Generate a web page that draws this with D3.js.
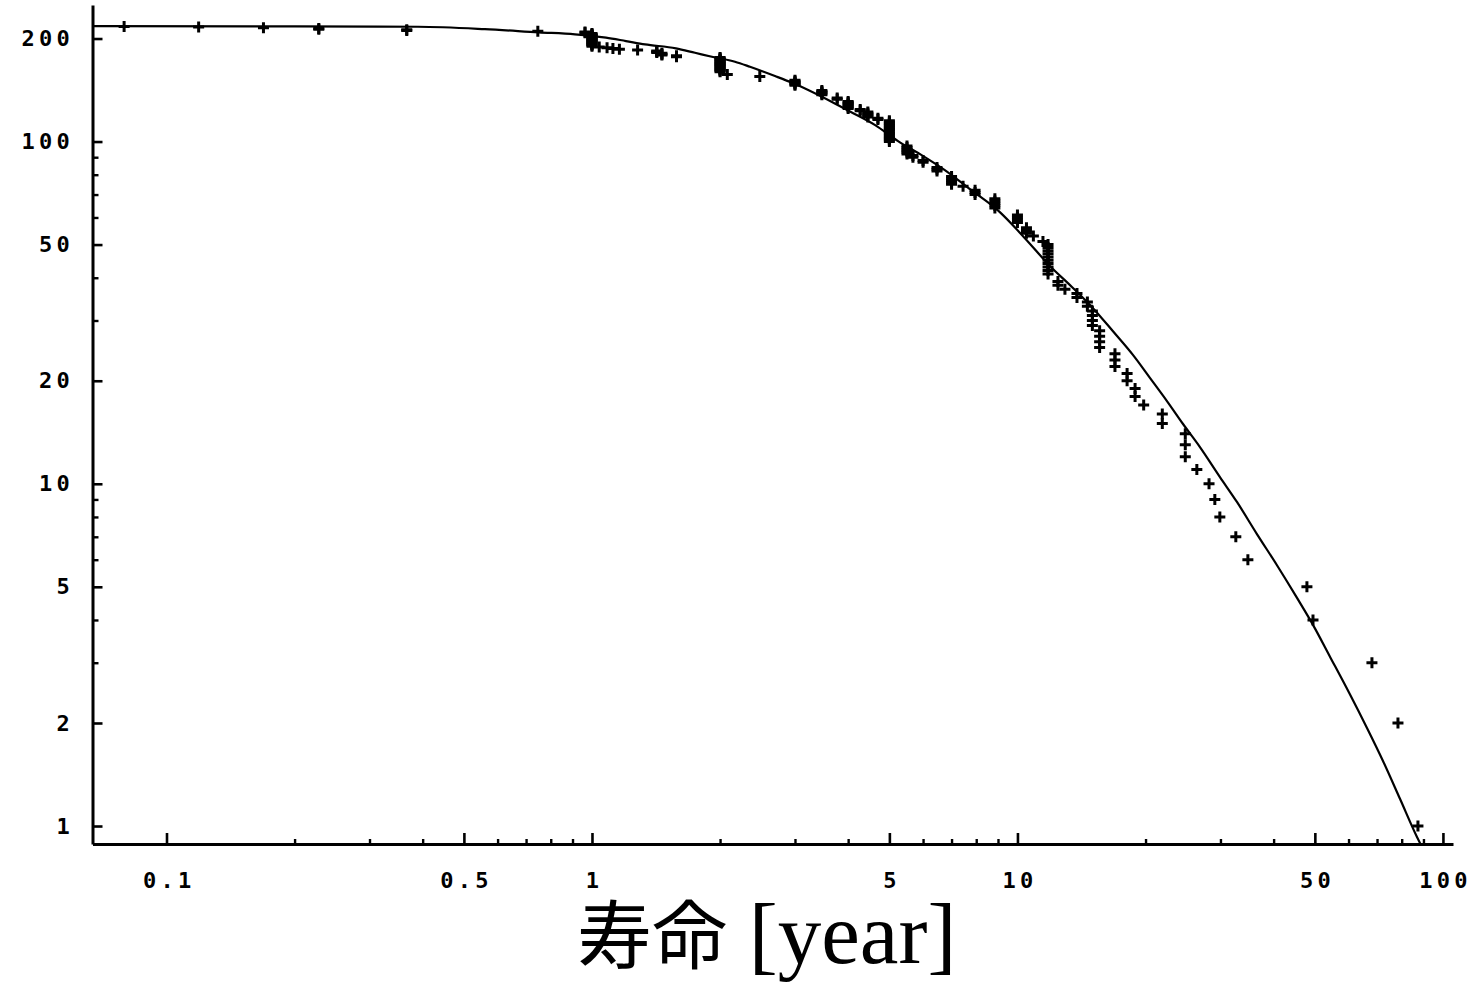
<!DOCTYPE html>
<html>
<head>
<meta charset="utf-8">
<script src="https://cdn.jsdelivr.net/npm/d3@7"></script>
<style>
body { margin: 0; background: #fff; }
svg text { white-space: pre; }
</style>
</head>
<body>
<svg id="chart" width="1468" height="985"></svg>
<script>
// tick values of the two log axes
var xMajor = [0.1, 0.5, 1, 5, 10, 50, 100];
var xMinor = [0.2, 0.3, 0.4, 0.6, 0.7, 0.8, 0.9, 2, 3, 4, 6, 7, 8, 9, 20, 30, 40, 60, 70, 80, 90];
var yMajor = [1, 2, 5, 10, 20, 50, 100, 200];
var yMinor = [3, 4, 6, 7, 8, 9, 30, 40, 60, 70, 80, 90];

// observed lifetimes (years) and number of units still in service
var lifeYears = [
  0.0795, 0.119, 0.169, 0.228, 0.228, 0.367, 0.367, 0.746, 0.963, 0.963,
  1, 1, 1, 1, 1, 1, 1, 1, 1, 1, 1, 1, 1, 1, 1, 1, 1, 1,
  1.04, 1.085, 1.12, 1.16, 1.28, 1.42, 1.42, 1.42, 1.46, 1.46, 1.46, 1.58, 1.58,
  2, 2, 2, 2, 2, 2, 2, 2, 2, 2, 2, 2, 2, 2, 2, 2, 2,
  2.08, 2.48,
  3, 3, 3, 3, 3, 3,
  3.47, 3.47, 3.47, 3.47, 3.47,
  3.77, 3.77,
  4, 4, 4, 4, 4, 4, 4,
  4.27, 4.27,
  4.45, 4.45, 4.45, 4.45, 4.45,
  4.7, 4.7,
  5, 5, 5, 5, 5, 5, 5, 5, 5, 5, 5, 5, 5, 5, 5, 5,
  5.5, 5.5, 5.5, 5.5, 5.5, 5.5,
  5.68, 5.68,
  6, 6,
  6.47, 6.47, 6.47,
  7, 7, 7, 7, 7,
  7.45,
  7.95, 7.95, 7.95,
  8.85, 8.85, 8.85, 8.85, 8.85,
  10, 10, 10, 10,
  10.5, 10.5, 10.5,
  10.9, 11.48,
  11.8, 11.8, 11.8, 11.8, 11.8, 11.8, 11.8, 11.8, 11.8, 11.8,
  12.45, 12.45, 12.93, 13.8, 13.8, 14.6, 14.6,
  15, 15, 15, 15,
  15.6, 15.6, 15.6, 15.6,
  16.95, 16.95, 16.95,
  18.1, 18.1, 18.9, 18.9, 19.8, 21.9, 21.9,
  24.8, 24.8, 24.8,
  26.4, 28.2, 29.1, 29.9, 32.6, 34.8, 47.9, 49.5, 68.1, 78.4, 87.35
];
var unitsLeft = [
  217, 216, 215, 214, 213, 212, 211, 210, 209, 208,
  207, 206, 205, 204, 203, 202, 201, 200, 199, 198, 197, 196, 195, 194, 193, 192, 191, 190,
  189, 188, 187, 186, 185, 184, 183, 182, 181, 180, 179, 178, 177,
  176, 175, 174, 173, 172, 171, 170, 169, 168, 167, 166, 165, 164, 163, 162, 161, 160,
  157, 155,
  151, 150, 149, 148, 147, 146,
  141, 140, 139, 138, 137,
  134, 133,
  131, 130, 129, 128, 127, 126, 125,
  124, 123,
  122, 121, 120, 119, 118,
  117, 116,
  115, 114, 113, 112, 111, 110, 109, 108, 107, 106, 105, 104, 103, 102, 101, 100,
  97, 96, 95, 94, 93, 92,
  91, 90,
  88, 87,
  84, 83, 82,
  79, 78, 77, 76, 75,
  74,
  72, 71, 70,
  68, 67, 66, 65, 64,
  61, 60, 59, 58,
  56, 55, 54,
  53, 51,
  50, 49, 48, 47, 46, 45, 44, 43, 42, 41,
  39, 38, 37, 36, 35, 34, 33,
  32, 31, 30, 29,
  28, 27, 26, 25,
  24, 23, 22,
  21, 20, 19, 18, 17, 16, 15,
  14, 13, 12,
  11, 10, 9, 8, 7, 6, 5, 4, 3, 2, 1
];

// fitted survival curve
var fitYears = [0.067, 0.2, 0.39, 0.56, 0.75, 0.912, 1.079, 1.202, 1.332, 1.575, 1.746, 1.913,
  2.168, 2.351, 2.692, 2.966, 3.665, 4.04, 4.63, 5.24, 5.9, 6.75, 7.73, 9.09, 10.41, 11.92,
  13.43, 15.05, 16.77, 18.68, 20.48, 22.46, 24.5, 26.85, 29.92, 32.8, 36.55, 40.7, 45.4, 49.5,
  54.3, 60.4, 66.3, 72.3, 79.3, 86.9, 88.55];
var fitCount = [217.5, 217, 216.5, 213, 208.5, 205.7, 201.1, 196.6, 192.3, 187.2, 181.7, 176.9,
  171.1, 165.4, 155.4, 148.2, 130.5, 122.4, 111.7, 100.3, 91.9, 82.5, 72.6, 62.2, 52.2, 43.3,
  37.6, 32.6, 27.9, 23.8, 20.4, 17.45, 14.95, 12.8, 10.46, 8.85, 7.13, 5.79, 4.64, 3.87,
  3.12, 2.43, 1.934, 1.549, 1.199, 0.929, 0.886];

var svg = d3.select("#chart");

var x = d3.scaleLog().domain([0.067, 105.6]).range([92.5, 1453]);
var y = d3.scaleLog().domain([0.886, 250.6]).range([844, 5]);

var labelFont = "'DejaVu Sans Mono', monospace";
var pitch = 17.5;   //spacing of the wide, spread out tick digits

//minor ticks, no labels
svg.append("g")
   .attr("transform", "translate(0,844)")
   .call(d3.axisBottom(x).tickValues(xMinor).tickSize(-5).tickSizeOuter(0).tickFormat(""))
   .call(function(g){ g.select(".domain").remove(); })
   .selectAll("line").attr("stroke-width", 2.4);

svg.append("g")
   .attr("transform", "translate(92.5,0)")
   .call(d3.axisLeft(y).tickValues(yMinor).tickSize(-6).tickSizeOuter(0).tickFormat(""))
   .call(function(g){ g.select(".domain").remove(); })
   .selectAll("line").attr("stroke-width", 2.4);

//major ticks with labels
var xAxis = svg.append("g")
   .attr("transform", "translate(0,844)")
   .call(d3.axisBottom(x).tickValues(xMajor).tickSize(-11).tickSizeOuter(0).tickPadding(28)
         .tickFormat(function(d){ return String(d); }));

var yAxis = svg.append("g")
   .attr("transform", "translate(92.5,0)")
   .call(d3.axisLeft(y).tickValues(yMajor).tickSize(-10).tickSizeOuter(0).tickPadding(18)
         .tickFormat(function(d){ return String(d); }));

[xAxis, yAxis].forEach(function(g){
  g.select(".domain").attr("stroke-width", 3);
  g.selectAll("line").attr("stroke-width", 2.6);
  g.selectAll("text")
   .attr("font-family", labelFont)
   .attr("font-size", 22)
   .attr("font-weight", "bold")
   .attr("text-anchor", "middle")
   .attr("fill", "#000");
});

//place every digit on its own so the labels keep the wide spacing
xAxis.selectAll("text").attr("x", function(d){
  var n = String(d).length;
  return d3.range(n).map(function(i){ return (i - (n - 1) / 2) * pitch; }).join(" ");
});
yAxis.selectAll("text").attr("x", function(d){
  var n = String(d).length;
  return d3.range(n).map(function(i){ return -29.5 - (n - 1 - i) * pitch; }).join(" ");
});

//fitted curve
var line = d3.line()
  .x(function(d){ return x(d[0]); })
  .y(function(d){ return y(d[1]); })
  .curve(d3.curveMonotoneX);

svg.append("path")
   .datum(d3.zip(fitYears, fitCount))
   .attr("d", line)
   .attr("fill", "none")
   .attr("stroke", "#000")
   .attr("stroke-width", 2.2);

//one plus marker per unit
svg.append("g")
   .selectAll("path")
   .data(d3.zip(lifeYears, unitsLeft))
   .enter().append("path")
   .attr("d", "M-5.5,0H5.5M0,-5.5V5.5")
   .attr("transform", function(d){ return "translate(" + x(d[0]) + "," + y(d[1]) + ")"; })
   .attr("stroke", "#000")
   .attr("stroke-width", 3)
   .attr("fill", "none");

//axis title
var title = svg.append("text")
   .attr("x", 577)
   .attr("y", 963)
   .attr("fill", "#000");
title.append("tspan")
   .attr("font-family", "'Noto Sans CJK JP'")
   .attr("font-size", 75)
   .text("寿命");
title.append("tspan")
   .attr("font-family", "'Liberation Serif', serif")
   .attr("font-size", 87)
   .text(" [year]");
</script>
</body>
</html>
